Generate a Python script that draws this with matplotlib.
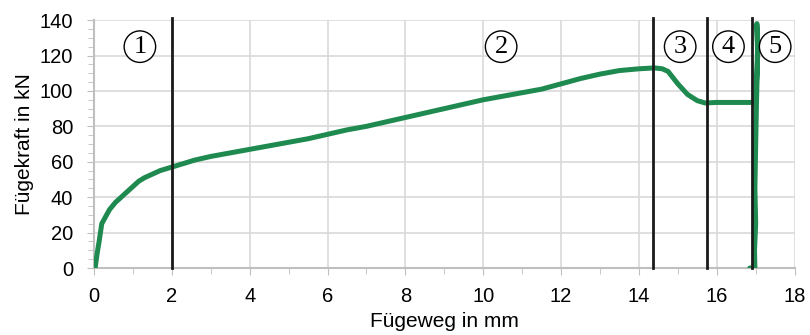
import matplotlib.pyplot as plt
from matplotlib.ticker import MultipleLocator

plt.rcParams["font.family"] = ["Liberation Sans", "DejaVu Sans"]

# Force-displacement curve (Fügeweg in mm, Fügekraft in kN)
weg = [0.03, 0.08, 0.14, 0.2, 0.3, 0.4, 0.55, 0.7, 0.85, 1.0, 1.15, 1.3, 1.5,
       1.7, 2.0, 2.3, 2.6, 3.0, 3.5, 4.0, 4.5, 5.0, 5.5, 6.0, 6.5, 7.0, 7.5,
       8.0, 8.5, 9.0, 9.5, 10.0, 10.5, 11.0, 11.5, 12.0, 12.5, 13.0, 13.5,
       14.0, 14.4, 14.6, 14.75, 15.0, 15.25, 15.5, 15.7, 16.0, 16.5, 16.9,
       17.0, 17.03, 17.05, 17.03, 17.05, 17.02, 17.0, 16.98, 17.0, 16.97,
       16.98, 16.85]
kraft = [0, 8, 16, 25, 29, 33, 37, 40, 43, 46, 49, 51, 53, 55, 57, 59, 61,
         63, 65, 67, 69, 71, 73, 75.5, 78, 80, 82.5, 85, 87.5, 90, 92.5, 95,
         97, 99, 101, 104, 107, 109.5, 111.5, 112.5, 113, 112.5, 111, 104, 98,
         94.5, 93.2, 93.5, 93.5, 93.5, 93.5, 110, 125, 138, 120, 93, 70, 45,
         25, 10, 0, 0]

# Phase boundaries and phase labels
grenzen = [2.0, 14.37, 15.75, 16.9]
phasen = ["1", "2", "3", "4", "5"]
phasen_x = [1.18, 10.46, 15.06, 16.3, 17.5]
phasen_y = [125, 125, 125, 125, 125]

fig = plt.figure(figsize=(8.1, 3.35), dpi=100)
ax = fig.add_axes([0.116, 0.2, 0.865, 0.74])

ax.plot(weg, kraft, color="#1e8a4f", linewidth=3.6, solid_capstyle="round",
        solid_joinstyle="round", zorder=3)

for g in grenzen:
    ax.plot([g, g], [0, 141], color="#1a1a1a", linewidth=2, clip_on=False,
            zorder=4)

for label, px, py in zip(phasen, phasen_x, phasen_y):
    ax.text(px, py, label, ha="center", va="center", fontsize=19,
            family=["Liberation Serif", "DejaVu Serif"], zorder=5,
            bbox=dict(boxstyle="circle,pad=0.18", facecolor="white",
                      edgecolor="black", linewidth=1))

# Aesthetics
ax.set_xlim(0, 18)
ax.set_ylim(0, 140)
ax.xaxis.set_major_locator(MultipleLocator(2))
ax.xaxis.set_minor_locator(MultipleLocator(1))
ax.yaxis.set_major_locator(MultipleLocator(20))
ax.yaxis.set_minor_locator(MultipleLocator(5))
ax.grid(which="major", color="#d9d9d9", linewidth=1.2, zorder=0)
ax.set_axisbelow(True)
for side in ["top", "right"]:
    ax.spines[side].set_visible(False)
for side in ["left", "bottom"]:
    ax.spines[side].set_color("#bfbfbf")
    ax.spines[side].set_linewidth(1.5)
ax.tick_params(which="both", colors="#bfbfbf", labelcolor="black",
               labelsize=14.5)
ax.tick_params(which="major", length=5)
ax.tick_params(which="minor", length=4)
ax.tick_params(axis="x", which="major", pad=9)
ax.tick_params(axis="y", which="major", pad=10)
ax.set_xlabel("Fügeweg in mm", fontsize=15, labelpad=4)
ax.set_ylabel("Fügekraft in kN", fontsize=15, labelpad=4)

plt.savefig("out.png", dpi=100)
